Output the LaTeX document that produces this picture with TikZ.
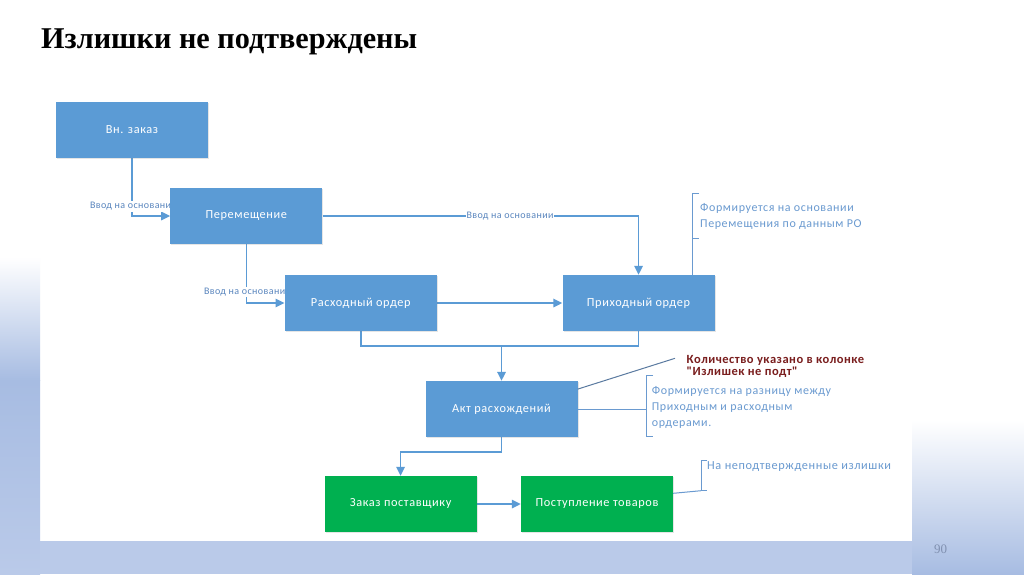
\documentclass[tikz,border=0pt]{standalone}
\usepackage{fontspec}
\setmainfont{Carlito}
\newfontfamily\titlefont{Liberation Serif}
\newfontfamily\boxfont[LetterSpace=5]{Carlito}
\newfontfamily\lblfont[LetterSpace=4]{Carlito}
\newfontfamily\notefont[LetterSpace=5]{Carlito}
\newfontfamily\boldnotefont[LetterSpace=4]{Carlito Bold}
\usetikzlibrary{arrows.meta,shadows}

\definecolor{boxblue}{HTML}{5B9BD5}
\definecolor{boxgreen}{HTML}{00B050}
\definecolor{linecol}{HTML}{5B9BD5}
\definecolor{lbltext}{HTML}{5A86BE}
\definecolor{annot}{HTML}{6A9AD0}
\definecolor{darkred}{HTML}{7A1E1E}
\definecolor{leadcol}{HTML}{5A7AA0}
\definecolor{bgA}{HTML}{A7BCE2}
\definecolor{bgB}{HTML}{BACAE9}
\definecolor{numgray}{HTML}{8090B0}

\tikzset{
  box/.style={draw=none, fill=boxblue, text=white, minimum width=152pt, minimum height=56pt,
    inner sep=0pt, font=\boxfont\fontsize{12.3}{14}\selectfont,
    drop shadow={opacity=0.2, shadow xshift=1pt, shadow yshift=-1pt}},
  gbox/.style={box, fill=boxgreen},
  anch/.style={draw=none, fill=none, minimum width=152pt, minimum height=56pt, inner sep=0pt},
  conn/.style={draw=linecol, line width=1.6pt},
  arr/.style={conn, -{Triangle[length=9pt,width=8.5pt]}},
  lbl/.style={fill=white, text=lbltext, inner sep=1pt, font=\lblfont\fontsize{10}{11}\selectfont},
  note/.style={text=annot, align=left, anchor=west, inner sep=0pt, font=\notefont\fontsize{12}{16.3}\selectfont},
  brk/.style={draw=annot, line width=1pt},
}

\begin{document}
\begin{tikzpicture}[x=1pt,y=-1pt]
\useasboundingbox (0,0) rectangle (1024,574);
% background
\fill[white] (0,0) rectangle (1024,574);
\shade[top color=white, bottom color=bgA] (0,257) rectangle (40,380);
\shade[top color=bgA, bottom color=bgB] (0,380) rectangle (40,574);
\shade[top color=white, bottom color=bgA] (912,420) rectangle (1024,574);
\fill[bgB] (40,541) rectangle (912,574);

% title and page number
\node[anchor=base west, inner sep=0pt, font=\titlefont\bfseries\fontsize{30.2}{34}\selectfont] (title) at (41,48.3) {Излишки не подтверждены};
\node[font=\titlefont\fontsize{13}{14}\selectfont, text=numgray] (pnum) at (940.5,549.5) {90};

% anchor nodes for connectors (boxes drawn later, on top)
\node[anch] (vz0) at (132,130) {};
\node[anch] (per0) at (246.3,216) {};
\node[anch] (rash0) at (360.7,303) {};
\node[anch] (prih0) at (638.5,303) {};
\node[anch] (akt0) at (501.5,409) {};
\node[anch] (zak0) at (400.6,504) {};
\node[anch] (post0) at (597,504) {};

% connectors
\draw[arr] (vz0.south) -- (vz0.south |- per0.west) -- (per0.west);
\draw[arr] (per0.east) -- (per0.east -| prih0.north) -- (prih0.north);
\draw[arr] (per0.south) -- (per0.south |- rash0.west) -- (rash0.west);
\draw[arr] (rash0.east) -- (prih0.west);
\coordinate (j) at (501.5,346);
\draw[conn] (rash0.south) -- (rash0.south |- j) -- (prih0.south |- j) -- (prih0.south);
\draw[arr] (akt0.north |- j) -- (akt0.north);
\draw[arr] (akt0.south) -- ++(0,14.5) -| (zak0.north);
\draw[arr] (zak0.east) -- (post0.west);

% connector labels
\node[lbl] (l1) at (133.5,206.5) {Ввод на основании};
\node[lbl] (l2) at (510,216) {Ввод на основании};
\node[lbl] (l3) at (247.5,292) {Ввод на основании};

% boxes
\node[box] (vz) at (vz0) {Вн. заказ};
\node[box] (per) at (per0) {Перемещение};
\node[box] (rash) at (rash0) {Расходный ордер};
\node[box] (prih) at (prih0) {Приходный ордер};
\node[box] (akt) at (akt0) {Акт расхождений};
\node[gbox] (zak) at (zak0) {Заказ поставщику};
\node[gbox] (post) at (post0) {Поступление товаров};

% annotation A
\coordinate (a1) at (692.7,238);
\draw[brk] (699,193) -- (692.7,193) -- (a1) -- (699,238);
\draw[brk] (a1) -- (a1 |- prih.north);
\node[note] (na) at (700,216.5) {Формируется на основании\\Перемещения по данным РО};

% annotation B
\coordinate (b1) at (675,358.3);
\draw[draw=leadcol, line width=1pt] ([yshift=-8.3pt]akt.north east) -- (b1);
\node[anchor=west, align=left, inner sep=0pt, text=darkred, font=\boldnotefont\fontsize{12.5}{12.7}\selectfont] (nb) at (686.5,366.3) {Количество указано в колонке\\"Излишек не подт"};

% annotation C
\coordinate (c1) at (646.7,409);
\draw[brk] (653,375) -- (646.7,375) -- (646.7,436.7) -- (653,436.7);
\draw[brk] (akt.east) -- (c1);
\node[note] (nc) at (651.7,407.5) {Формируется на разницу между\\Приходным и расходным\\ордерами.};

% annotation D
\coordinate (d1) at (701,490.7);
\draw[brk] (707,460.7) -- (701,460.7) -- (d1) -- (707,490.7);
\draw[brk] ([yshift=10.7pt]post.east) -- (d1);
\node[note, font=\notefont\fontsize{12.3}{13}\selectfont] (nd) at (707,467) {На неподтвержденные излишки};
\end{tikzpicture}
\end{document}
